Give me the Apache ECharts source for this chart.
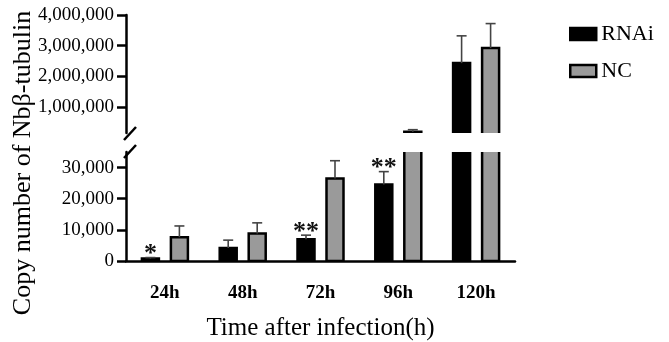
<!DOCTYPE html>
<html>
<head>
<meta charset="utf-8">
<script src="https://cdn.jsdelivr.net/npm/echarts@6/dist/echarts.min.js"></script>
<style>
  html, body { margin: 0; padding: 0; background: #fff; }
  #chart { width: 669px; height: 342px; }
</style>
</head>
<body>
<div id="chart"></div>
<script type="text/javascript">
  // data
  var categories = ['24h', '48h', '72h', '96h', '120h'];
  var rnai = [800, 4200, 7000, 24600, 2430000];
  var rnaiErr = [300, 2500, 1300, 4100, 890000];
  var nc = [7650, 8800, 26500, 190000, 2920000];
  var ncErr = [3600, 3450, 5700, 68000, 800000];
  var sig = ['*', '', '**', '**', ''];
  var topTicks = [1000000, 2000000, 3000000, 4000000];
  var bottomTicks = [0, 10000, 20000, 30000];

  var FONT = "'Liberation Serif', 'Times New Roman', serif";
  var BAR_W = 17;
  var OFFSET = 14.5;
  var RNAI_STYLE = { color: '#000', borderColor: '#000', borderWidth: 2.5 };
  var NC_STYLE = { color: '#9a9a9a', borderColor: '#000', borderWidth: 2.5 };

  var chart = echarts.init(document.getElementById('chart'));

  function fmt(v) {
    return v.toLocaleString('en-US');
  }

  // bars drawn as custom rects so that the axis break cuts them cleanly
  function barSeries(grid, name, vals, side, st) {
    return {
      name: name,
      type: 'custom',
      xAxisIndex: grid,
      yAxisIndex: grid,
      clip: true,
      z: 2,
      data: vals.map(function (v, i) { return [i, v]; }),
      renderItem: function (params, api) {
        var top = api.coord([api.value(0), api.value(1)]);
        var base = api.coord([api.value(0), 0]);
        var x = top[0] + side * OFFSET - BAR_W / 2;
        return {
          type: 'rect',
          shape: { x: x, y: top[1], width: BAR_W, height: base[1] - top[1] },
          style: { fill: st.color, stroke: st.borderColor, lineWidth: st.borderWidth }
        };
      }
    };
  }

  function errorSeries(grid, vals, errs, side, marks) {
    return {
      type: 'custom',
      xAxisIndex: grid,
      yAxisIndex: grid,
      clip: true,
      z: 3,
      data: vals.map(function (v, i) { return [i, v, v + errs[i]]; }),
      renderItem: function (params, api) {
        var i = params.dataIndex;
        var base = api.coord([api.value(0), api.value(1)]);
        var cap = api.coord([api.value(0), api.value(2)]);
        var x = base[0] + side * OFFSET;
        var kids = [
          { type: 'line', shape: { x1: x, y1: base[1], x2: x, y2: cap[1] },
            style: { stroke: '#444', lineWidth: 1.6 } },
          { type: 'line', shape: { x1: x - 5, y1: cap[1], x2: x + 5, y2: cap[1] },
            style: { stroke: '#444', lineWidth: 1.6 } }
        ];
        if (marks && marks[i]) {
          kids.push({ type: 'text', x: x, y: cap[1] - 3,
            style: { text: marks[i], font: 'bold 26px ' + FONT, fill: '#111',
              align: 'center', verticalAlign: 'middle' } });
        }
        return { type: 'group', children: kids };
      }
    };
  }

  function gridSeries(grid) {
    return [
      barSeries(grid, 'RNAi', rnai, -1, RNAI_STYLE),
      barSeries(grid, 'NC', nc, 1, NC_STYLE),
      errorSeries(grid, rnai, rnaiErr, -1, grid === 1 ? sig : null),
      errorSeries(grid, nc, ncErr, 1, null)
    ];
  }

  var axisLine = { show: true, lineStyle: { color: '#000', width: 2.5 } };
  var labelStyle = { color: '#000', fontSize: 19, fontFamily: FONT };

  var option = {
    animation: false,
    backgroundColor: '#fff',
    legend: {
      data: [
        { name: 'RNAi', itemStyle: RNAI_STYLE },
        { name: 'NC', itemStyle: NC_STYLE }
      ],
      orient: 'vertical',
      left: 564,
      top: 18,
      icon: 'rect',
      itemWidth: 26,
      itemHeight: 12,
      itemGap: 15,
      textStyle: { color: '#000', fontSize: 22, fontFamily: FONT }
    },
    grid: [
      { left: 126, width: 389, top: 15, height: 118 },
      { left: 126, width: 389, top: 152, height: 119 }
    ],
    xAxis: [
      { type: 'category', gridIndex: 0, data: categories, show: false },
      {
        type: 'category', gridIndex: 1, data: categories,
        axisLine: axisLine,
        axisTick: { alignWithLabel: true, length: 8, lineStyle: { color: '#000', width: 2.5 } },
        axisLabel: { color: '#000', fontSize: 19, fontFamily: FONT, fontWeight: 'bold', margin: 23 },
        name: 'Time after infection(h)',
        nameLocation: 'middle',
        nameGap: 55,
        nameTextStyle: { color: '#000', fontSize: 25, fontFamily: FONT }
      }
    ],
    yAxis: [
      {
        type: 'value', gridIndex: 0, min: 150000, max: 4000000,
        axisLine: axisLine,
        splitLine: { show: false },
        axisTick: { show: true, length: 9, customValues: topTicks, lineStyle: { color: '#000', width: 2.5 } },
        axisLabel: Object.assign({ margin: 12, customValues: topTicks, formatter: fmt }, labelStyle)
      },
      {
        type: 'value', gridIndex: 1, min: 0, max: 35000,
        axisLine: axisLine,
        splitLine: { show: false },
        axisTick: { show: true, length: 9, customValues: bottomTicks, lineStyle: { color: '#000', width: 2.5 } },
        axisLabel: Object.assign({ margin: 12, customValues: bottomTicks, formatter: fmt }, labelStyle)
      }
    ],
    graphic: [
      {
        type: 'text', x: 23, y: 163, rotation: Math.PI / 2,
        style: { text: 'Copy number of Nbβ-tubulin', font: '26px ' + FONT, fill: '#000',
          align: 'center', verticalAlign: 'middle' }
      },
      { type: 'line', shape: { x1: 124, y1: 140, x2: 136, y2: 127 },
        style: { stroke: '#000', lineWidth: 2.5 } },
      { type: 'line', shape: { x1: 124, y1: 158, x2: 136, y2: 145 },
        style: { stroke: '#000', lineWidth: 2.5 } }
    ],
    series: gridSeries(0).concat(gridSeries(1))
  };

  chart.setOption(option);
  window.onresize = function () {
    chart.resize();
  };
</script>
</body>
</html>
